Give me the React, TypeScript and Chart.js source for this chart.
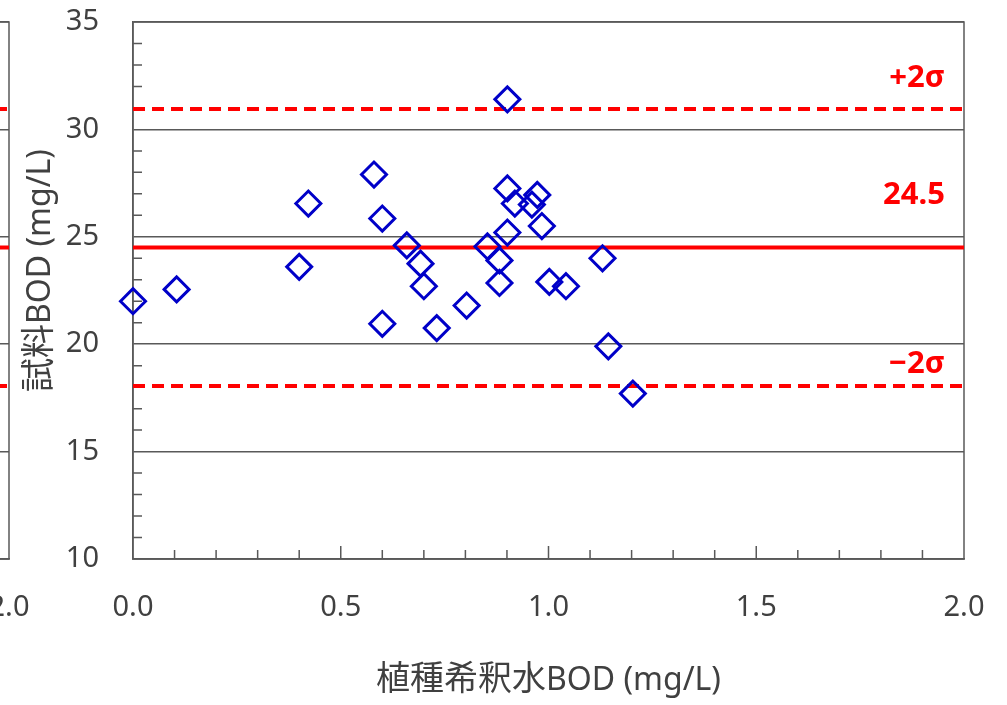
import React, { useEffect, useRef } from 'react';
import { Chart, registerables } from 'chart.js';
Chart.register(...registerables);

// ---- data ----
const seedBOD = [0.0, 0.105, 0.4, 0.422, 0.58, 0.6, 0.6, 0.659, 0.692, 0.7, 0.731, 0.803, 0.853, 0.882, 0.882, 0.901, 0.901, 0.901, 0.919, 0.96, 0.973, 0.984, 1.002, 1.042, 1.13, 1.144, 1.203];
const sampleBOD = [22.0, 22.55, 23.6, 26.55, 27.9, 25.85, 20.95, 24.6, 23.75, 22.7, 20.75, 21.8, 24.55, 23.9, 22.85, 31.4, 27.25, 25.2, 26.55, 26.5, 26.95, 25.5, 22.9, 22.7, 24.0, 19.9, 17.7];

const refLabels = ['+2σ', '24.5', '−2σ'];
const refValues = [30.95, 24.5, 18.05];
const refDashed = [true, false, true];
const refLabelAt = [32.4, 26.95, 19.05];

const xRange = [0, 2];
const xStep = 0.1;
const xMajorEvery = 5;
const yRange = [10, 35];
const yStep = 1;
const yMajorEvery = 5;

const xTitleParts: [string, string][] = [['植種希釈水', 'cjk'], ['BOD (mg/L)', 'latin']];
const yTitleParts: [string, string][] = [['試料', 'cjk'], ['BOD (mg/L)', 'latin']];

// ---- styles ----
const LATIN = '"Noto Sans", "Open Sans", sans-serif';
const CJK = '"Noto Sans CJK JP", "Noto Sans", sans-serif';
const AXIS = '#595959';
const TEXT = '#404040';
const RED = '#ff0000';
const BLUE = '#0000c8';

function drawParts(ctx: CanvasRenderingContext2D, parts: [string, string][], cx: number, baseY: number) {
  const fonts = parts.map(([, k]) => (k === 'cjk' ? `34px ${CJK}` : `32px ${LATIN}`));
  let total = 0;
  const widths = parts.map(([t], i) => {
    ctx.font = fonts[i];
    const w = ctx.measureText(t).width;
    total += w;
    return w;
  });
  let x = cx - total / 2;
  ctx.textAlign = 'left';
  ctx.textBaseline = 'alphabetic';
  parts.forEach(([t], i) => {
    ctx.font = fonts[i];
    ctx.fillText(t, x, baseY);
    x += widths[i];
  });
}

const decorPlugin = {
  id: 'decor',
  beforeDatasetsDraw(chart: any) {
    const { ctx, chartArea: a, scales } = chart;
    const xs = scales.x;
    const ys = scales.y;
    ctx.save();
    ctx.strokeStyle = AXIS;
    ctx.lineWidth = 1.5;
    ctx.beginPath();
    const lastX = Math.round((xRange[1] - xRange[0]) / xStep);
    xs.ticks.forEach((t: any) => {
      const r = Math.round((t.value - xRange[0]) / xStep);
      if (r === 0 || r === lastX) return;
      const px = xs.getPixelForValue(t.value);
      const len = r % xMajorEvery === 0 ? 13 : 9;
      ctx.moveTo(px, a.bottom);
      ctx.lineTo(px, a.bottom - len);
    });
    ys.ticks.forEach((t: any) => {
      const r = Math.round(t.value / yStep);
      if (r % yMajorEvery === 0) return;
      const py = ys.getPixelForValue(t.value);
      ctx.moveTo(a.left, py);
      ctx.lineTo(a.left + 9, py);
    });
    ctx.stroke();
    ctx.strokeRect(a.left, a.top, a.right - a.left, a.bottom - a.top);
    ctx.restore();
  },
  afterDraw(chart: any) {
    const { ctx, chartArea: a, scales } = chart;
    const ys = scales.y;
    ctx.save();
    // reference line labels
    ctx.fillStyle = RED;
    ctx.font = `bold 31px ${LATIN}`;
    ctx.textAlign = 'right';
    ctx.textBaseline = 'middle';
    refLabels.forEach((lab, i) => {
      ctx.fillText(lab, a.right - 19, ys.getPixelForValue(refLabelAt[i]));
    });
    // axis titles
    ctx.fillStyle = TEXT;
    drawParts(ctx, xTitleParts, (a.left + a.right) / 2, a.bottom + 131);
    ctx.translate(a.left - 83, (a.top + a.bottom) / 2 - 20);
    ctx.rotate(-Math.PI / 2);
    drawParts(ctx, yTitleParts, 0, 0);
    ctx.restore();
  },
};

function BodChart({ showPoints }: { showPoints: boolean }) {
  const ref = useRef<HTMLCanvasElement>(null);
  useEffect(() => {
    if (!ref.current) return;
    const datasets: any[] = [];
    if (showPoints) {
      datasets.push({
        type: 'scatter',
        data: seedBOD.map((x, i) => ({ x, y: sampleBOD[i] })),
        pointStyle: 'rectRot',
        pointRadius: 12.5,
        pointHoverRadius: 12.5,
        pointBorderWidth: 3,
        borderColor: BLUE,
        backgroundColor: 'rgba(0,0,0,0)',
        clip: false,
      });
    }
    refValues.forEach((v, i) => {
      datasets.push({
        type: 'line',
        data: [
          { x: xRange[0], y: v },
          { x: xRange[1], y: v },
        ],
        borderColor: RED,
        borderWidth: 4,
        borderDash: refDashed[i] ? [12, 7] : [],
        pointRadius: 0,
        fill: false,
      });
    });
    const tickFont = { family: LATIN, size: 29 };
    const chart = new Chart(ref.current, {
      type: 'scatter',
      data: { datasets },
      options: {
        responsive: false,
        animation: false,
        layout: { padding: { left: 0, top: 22, right: 43, bottom: 0 } },
        plugins: { legend: { display: false }, tooltip: { enabled: false } },
        scales: {
          x: {
            type: 'linear',
            min: xRange[0],
            max: xRange[1],
            grid: { display: false, drawTicks: false },
            border: { display: true, color: AXIS, width: 1.5 },
            ticks: {
              stepSize: xStep,
              autoSkip: false,
              maxRotation: 0,
              padding: 31,
              color: TEXT,
              font: tickFont,
              callback: (v: any) => {
                const r = Math.round(Number(v) / xStep);
                return r % xMajorEvery === 0 ? (r * xStep).toFixed(1) : '';
              },
            },
            afterFit: (s: any) => {
              s.height = 146;
              s.paddingLeft = 0;
              s.paddingRight = 0;
            },
          },
          y: {
            type: 'linear',
            min: yRange[0],
            max: yRange[1],
            grid: {
              drawTicks: false,
              lineWidth: 1.5,
              color: (c: any) => (Math.round(c.tick.value) % yMajorEvery === 0 ? AXIS : 'rgba(0,0,0,0)'),
            },
            border: { display: true, color: AXIS, width: 1.5 },
            ticks: {
              stepSize: yStep,
              autoSkip: false,
              padding: 34,
              color: TEXT,
              font: tickFont,
              callback: (v: any) => (Math.round(Number(v)) % yMajorEvery === 0 ? String(Math.round(Number(v))) : ''),
            },
            afterFit: (s: any) => {
              s.width = 133;
              s.paddingTop = 0;
              s.paddingBottom = 0;
            },
          },
        },
      } as any,
      plugins: [decorPlugin],
    });
    return () => chart.destroy();
  }, [showPoints]);
  return <canvas ref={ref} width={1007} height={705} style={{ width: 1007, height: 705, display: 'block' }} />;
}

export default function App() {
  return (
    <div style={{ position: 'fixed', left: 0, top: 0, width: 1007, height: 705, overflow: 'hidden', background: '#fff' }}>
      <div style={{ position: 'absolute', left: -955, top: 0 }}>
        <BodChart showPoints={false} />
      </div>
      <div style={{ position: 'absolute', left: 0, top: 0 }}>
        <BodChart showPoints={true} />
      </div>
    </div>
  );
}
